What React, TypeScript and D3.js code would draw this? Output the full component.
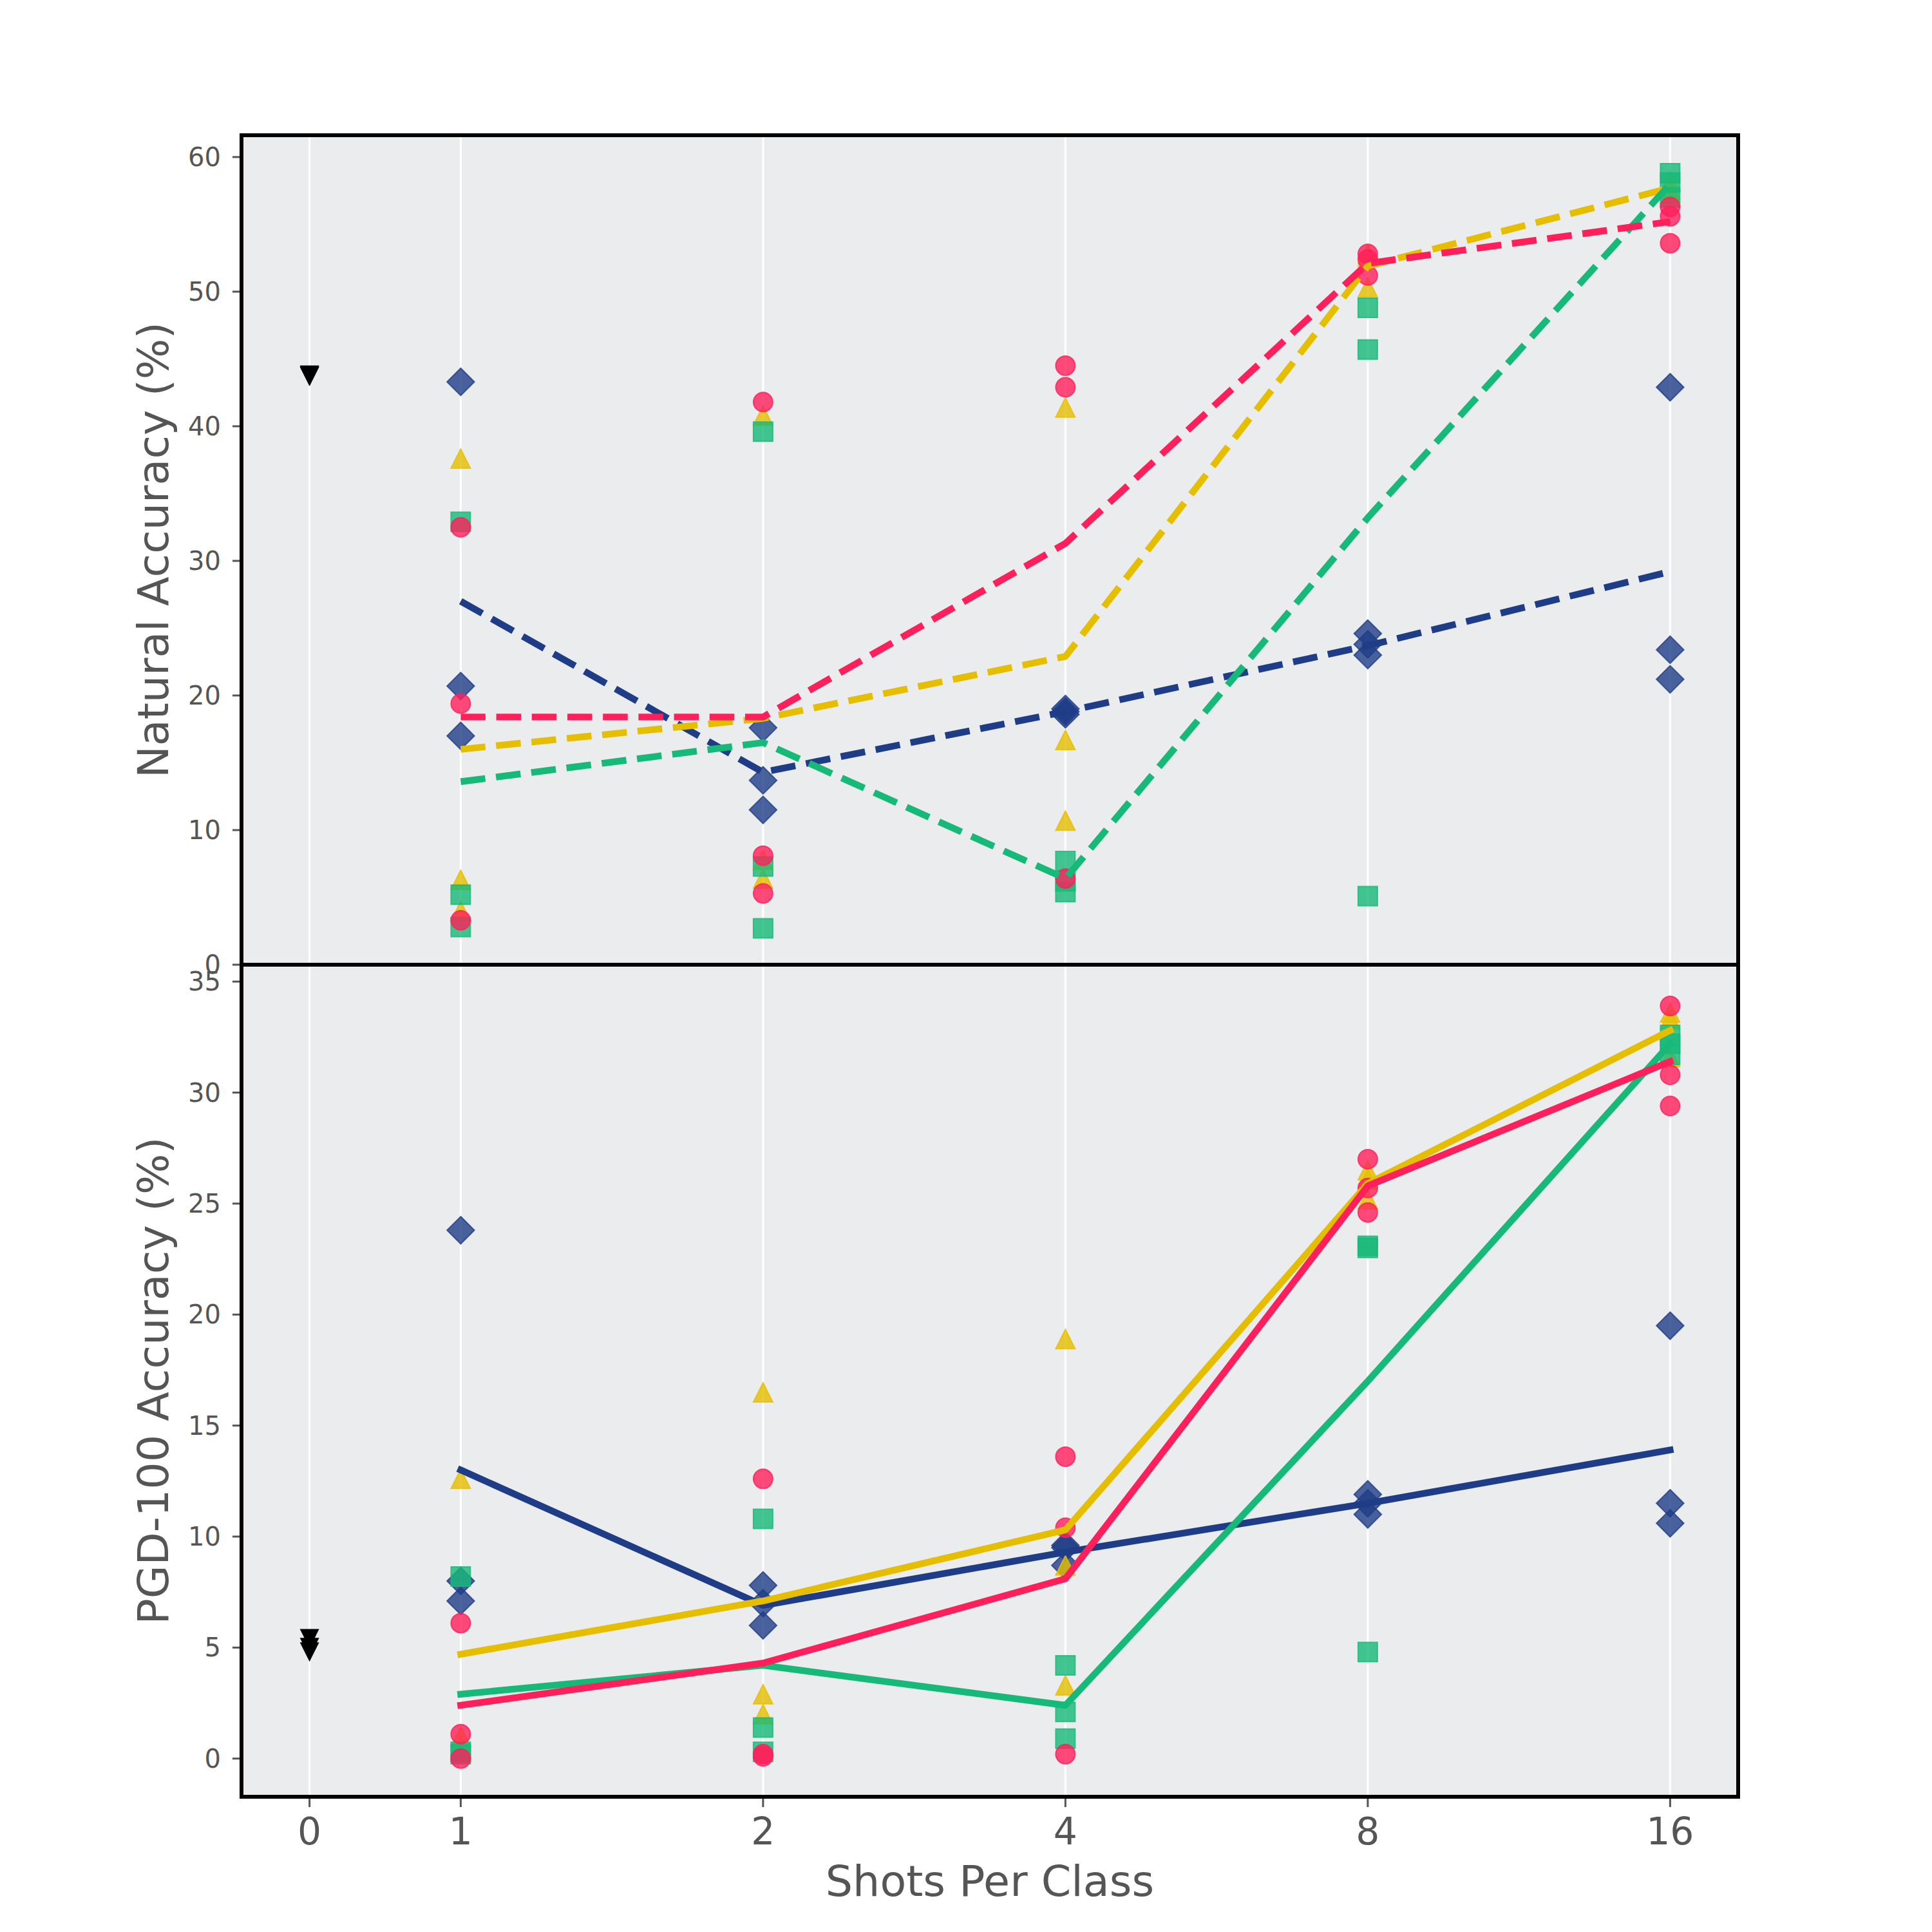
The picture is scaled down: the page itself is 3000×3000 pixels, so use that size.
import * as d3 from 'd3';
import { FC } from 'react';

// shots per class on the x axis (0 = zero-shot baseline)
const shots = [1, 2, 4, 8, 16];
const xTickLabels = ['0', '1', '2', '4', '8', '16'];

// zero-shot baseline (black down triangles)
const zeroShotNat = [43.8, 43.7, 43.7];
const zeroShotPgd = [5.4, 5.0, 4.8];

// natural accuracy, three runs per shot count
const natNavy = [[43.3, 20.7, 17.0], [17.6, 13.7, 11.5], [19.0, 18.8, 18.6], [24.6, 23.8, 23.0], [42.9, 23.4, 21.2]];
const natYellow = [[37.6, 6.3, 4.0], [40.8, 7.8, 6.4], [41.4, 16.7, 10.7], [52.8, 52.6, 50.3], [58.2, 57.6, 57.3]];
const natGreen = [[32.9, 5.2, 2.8], [39.6, 7.3, 2.7], [7.7, 6.2, 5.4], [48.8, 45.7, 5.1], [58.8, 58.1, 57.0]];
const natRed = [[32.5, 19.4, 3.3], [41.8, 8.1, 5.3], [44.5, 42.9, 6.4], [52.8, 52.4, 51.2], [56.3, 55.6, 53.6]];

// natural accuracy, mean lines (dashed)
const natNavyLine = [27.0, 14.3, 18.8, 23.7, 29.2];
const natYellowLine = [16.0, 18.3, 22.9, 51.9, 57.7];
const natGreenLine = [13.6, 16.5, 6.4, 33.2, 58.0];
const natRedLine = [18.4, 18.4, 31.3, 52.1, 55.2];

// PGD-100 accuracy, three runs per shot count
const pgdNavy = [[23.8, 8.0, 7.1], [7.8, 7.0, 6.0], [9.6, 9.5, 8.7], [11.9, 11.5, 11.0], [19.5, 11.5, 10.6]];
const pgdYellow = [[12.6, 1.0, 0.6], [16.5, 2.9, 2.0], [18.9, 8.7, 3.3], [26.5, 26.1, 25.2], [33.6, 33.3, 31.6]];
const pgdGreen = [[8.2, 0.3, 0.2], [10.8, 1.4, 0.3], [4.2, 2.1, 0.9], [23.1, 23.0, 4.8], [32.6, 32.2, 31.7]];
const pgdRed = [[6.1, 1.1, 0.0], [12.6, 0.2, 0.1], [13.6, 10.4, 0.2], [27.0, 25.7, 24.6], [33.9, 30.8, 29.4]];

// PGD-100 accuracy, mean lines (solid)
const pgdNavyLine = [13.0, 6.9, 9.3, 11.5, 13.9];
const pgdYellowLine = [4.7, 7.1, 10.3, 25.9, 32.8];
const pgdGreenLine = [2.9, 4.2, 2.4, 17.0, 32.2];
const pgdRedLine = [2.4, 4.3, 8.1, 25.8, 31.4];

const natTicks = [0, 10, 20, 30, 40, 50, 60];
const pgdTicks = [0, 5, 10, 15, 20, 25, 30, 35];

type Shape = 'D' | '^' | 's' | 'o' | 'v';

const markerPath = (shape: Shape, r = 15) => {
  const d = r * Math.SQRT2;
  switch (shape) {
    case 'D':
      return `M0,${-d}L${d},0L0,${d}L${-d},0Z`;
    case '^':
      return `M0,${-r}L${r},${r}L${-r},${r}Z`;
    case 'v':
      return `M0,${r}L${r},${-r}L${-r},${-r}Z`;
    case 's':
      return `M${-r},${-r}H${r}V${r}H${-r}Z`;
    default: {
      const p = d3.path();
      p.arc(0, 0, r, 0, 2 * Math.PI);
      return p.toString();
    }
  }
};

const series = [
  { color: '#1F3D87', shape: 'D' as Shape, nat: natNavy, pgd: pgdNavy, natLine: natNavyLine, pgdLine: pgdNavyLine },
  { color: '#E6BE00', shape: '^' as Shape, nat: natYellow, pgd: pgdYellow, natLine: natYellowLine, pgdLine: pgdYellowLine },
  { color: '#17B978', shape: 's' as Shape, nat: natGreen, pgd: pgdGreen, natLine: natGreenLine, pgdLine: pgdGreenLine },
  { color: '#FF1F5B', shape: 'o' as Shape, nat: natRed, pgd: pgdRed, natLine: natRedLine, pgdLine: pgdRedLine },
];

const W = 3000;
const H = 3000;
const left = 375;
const right = 2699;
const font = 'DejaVu Sans, sans-serif';
const grey = '#555555';

const xPos = (s: number) => (s === 0 ? -0.5 : Math.log2(s));
const x = d3.scaleLinear().domain([-0.725, 4.225]).range([left, right]);

const panels = [
  {
    key: 'nat',
    y: d3.scaleLinear().domain([0, 61.62]).range([1498, 210]),
    ticks: natTicks,
    zero: zeroShotNat,
    label: 'Natural Accuracy (%)',
    dashed: true,
  },
  {
    key: 'pgd',
    y: d3.scaleLinear().domain([-1.72, 35.76]).range([2790, 1498]),
    ticks: pgdTicks,
    zero: zeroShotPgd,
    label: 'PGD-100 Accuracy (%)',
    dashed: false,
  },
];

const App: FC = () => {
  return (
    <svg
      width={W}
      height={H}
      style={{ position: 'absolute', left: 0, top: 0, background: '#fff' }}
      fontFamily={font}
    >
      {panels.map((p) => {
        const [y0, y1] = p.y.range();
        const line = d3
          .line<number>()
          .x((_, i) => x(xPos(shots[i])))
          .y((d) => p.y(d));
        return (
          <g key={p.key}>
            <rect x={left} y={y1} width={right - left} height={y0 - y1} fill='#EBECEE' />
            {[0, ...shots].map((s) => (
              <line key={s} x1={x(xPos(s))} x2={x(xPos(s))} y1={y1} y2={y0} stroke='#fff' strokeWidth={3} />
            ))}
            {/* scatter of individual runs */}
            {series.map((s) => (
              <g key={s.color}>
                {(p.key === 'nat' ? s.nat : s.pgd).map((vals, i) =>
                  vals.map((v, j) => (
                    <path
                      key={i + '-' + j}
                      d={markerPath(s.shape)}
                      transform={`translate(${x(xPos(shots[i]))},${p.y(v)})`}
                      fill={s.color}
                      fillOpacity={0.8}
                      stroke={s.color}
                      strokeOpacity={0.8}
                      strokeWidth={2}
                    />
                  ))
                )}
              </g>
            ))}
            {p.zero.map((v, j) => (
              <path key={j} d={markerPath('v')} transform={`translate(${x(xPos(0))},${p.y(v)})`} fill='#000' />
            ))}
            {/* mean lines */}
            {series.map((s) => (
              <path
                key={s.color}
                d={line(p.key === 'nat' ? s.natLine : s.pgdLine) as string}
                fill='none'
                stroke={s.color}
                strokeWidth={10.4}
                strokeDasharray={p.dashed ? '38.5 16.7' : undefined}
                strokeLinecap={p.dashed ? 'butt' : 'square'}
                strokeLinejoin='round'
              />
            ))}
            {/* y axis */}
            {p.ticks.map((t) => (
              <g key={t} transform={`translate(0,${p.y(t)})`}>
                <line x1={361} x2={left} stroke={grey} strokeWidth={3} />
                <text x={343} dy='0.35em' textAnchor='end' fontSize={40} fill={grey}>
                  {t}
                </text>
              </g>
            ))}
            <text
              transform={`translate(261,${(y0 + y1) / 2}) rotate(-90)`}
              textAnchor='middle'
              fontSize={66.7}
              fill={grey}
            >
              {p.label}
            </text>
            <rect x={left} y={y1} width={right - left} height={y0 - y1} fill='none' stroke='#000' strokeWidth={6} />
          </g>
        );
      })}
      {/* x axis */}
      {[0, ...shots].map((s, i) => (
        <g key={s} transform={`translate(${x(xPos(s))},0)`}>
          <line y1={2793} y2={2806} stroke={grey} strokeWidth={3} />
          <text y={2864} textAnchor='middle' fontSize={58.3} fill={grey}>
            {xTickLabels[i]}
          </text>
        </g>
      ))}
      <text x={(left + right) / 2} y={2944} textAnchor='middle' fontSize={66.7} fill={grey}>
        Shots Per Class
      </text>
    </svg>
  );
};

export default App;
